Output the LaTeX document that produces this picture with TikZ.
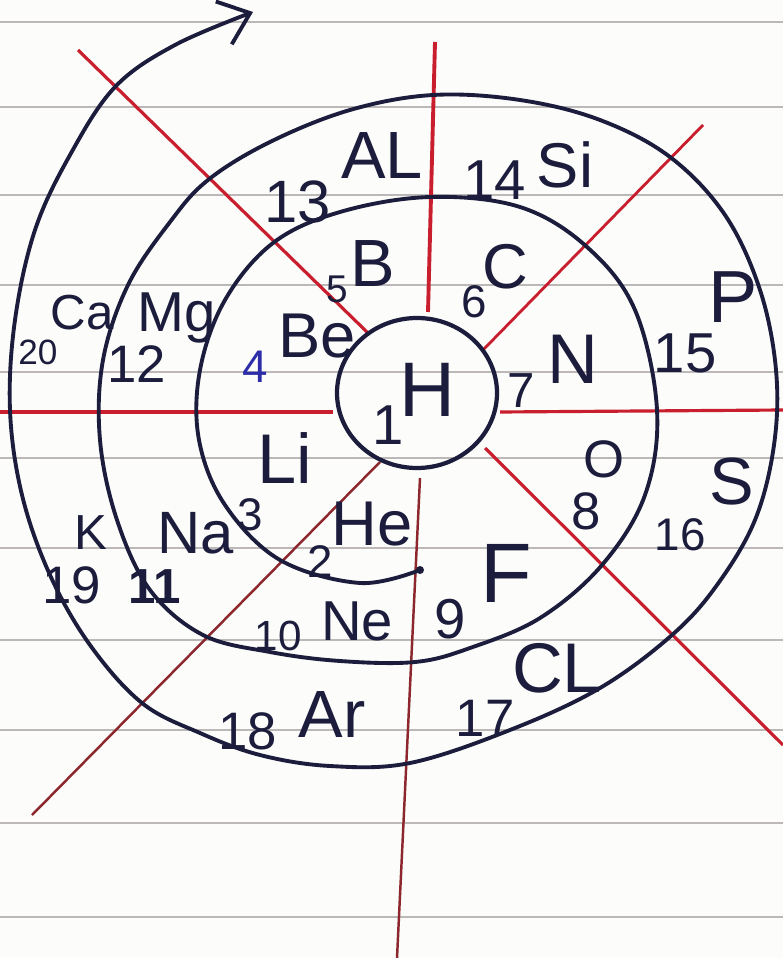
\documentclass[tikz,border=0pt]{standalone}
\usepackage{fontspec}
\setmainfont{Liberation Sans}
\usetikzlibrary{arrows.meta}
\definecolor{ink}{RGB}{28,28,60}
\definecolor{bluink}{RGB}{45,45,170}
\definecolor{redpen}{RGB}{200,30,45}
\definecolor{darkpen}{RGB}{140,40,45}
\definecolor{ruling}{RGB}{188,184,184}
\definecolor{paper}{RGB}{252,252,250}

\begin{document}
\begin{tikzpicture}[x=0.01cm,y=-0.01cm,>={Straight Barb[length=8pt,width=13pt]},
    sym/.style={inner sep=0pt,text=ink},
    num/.style={inner sep=0pt,text=ink}]
  \fill[paper] (0,0) rectangle (783,958);
  \useasboundingbox (0,0) rectangle (783,958);
  % ruled paper
  \foreach \y in {22,107,195,285,372,458,548,640,730,823,917}
     \draw[ruling,line width=0.6pt] (0,\y) -- (783,\y);
  % the eight red spokes, broken at the circle of H
  \draw[redpen,line width=1.1pt] (435,42) -- (428,312);
  \draw[darkpen,line width=0.7pt] (420,478) -- (397,958);
  \draw[redpen,line width=0.9pt] (0,412) -- (333,412);
  \draw[redpen,line width=0.9pt] (500,412) -- (783,410);
  \draw[redpen,line width=0.9pt] (78,50) -- (368,333);
  \draw[redpen,line width=0.9pt] (485,448) -- (783,745);
  \draw[redpen,line width=0.8pt] (703,125) -- (483,350);
  \draw[darkpen,line width=0.7pt] (380,462) -- (32,815);
  % hydrogen in the middle
  \draw[ink,line width=1.2pt] (417,393) ellipse [x radius=80,y radius=75];
  % the spiral, from He outwards
  \draw[ink,line width=1.1pt,->] plot[smooth,tension=0.6] coordinates {
     (420,570) (360,583) (280,560) (225,505) (199,440) (200,370) (225,300)
     (273,243) (340,212) (430,197) (520,207) (587,247) (635,310) (657,410)
     (645,495) (602,565) (540,618) (470,648) (415,662)
     (340,661) (270,652) (203,635) (150,590) (117,520) (100,440) (103,360)
     (128,285) (170,222) (208,180) (270,142) (350,110) (433,95) (520,100)
     (600,120) (670,157) (725,215) (760,290) (776,370) (774,445) (755,520)
     (717,585) (672,635) (600,688) (510,730) (410,763)
     (330,766) (260,755) (200,733) (142,703) (90,645) (50,575) (22,495)
     (10,410) (15,320) (35,230) (70,155) (115,87) (175,45) (253,12)};
  \fill[ink] (420,570) circle (4);
  % element symbols: x / y / size / symbol
  \foreach \x/\y/\s/\t in {427/390/22/H, 372/524/18/He, 285/458/20/Li,
      317/336/18/Be, 373/264/19/B, 505/267/18/C, 573/359/20/N, 604/459/15/O,
      506/573/24/F, 357/621/16/Ne, 196/533/17/Na, 177/318/16/Mg,
      382/156/19/AL, 565/165/18/Si, 733/297/21/P, 732/481/19/S,
      557/668/20/CL, 332/715/19/Ar, 91/533/14/K, 82/313/14/Ca}
     \node[sym,font=\fontsize{\s}{\s}\selectfont] (s\t) at (\x,\y) {\t};
  % atomic numbers: x / y / size / number
  \foreach \x/\y/\s/\n in {388/425/16/1, 320/562/13/2, 250/515/13/3,
      337/289/11/5, 474/302/13/6, 521/391/14/7, 586/511/15/8,
      450/619/16/9, 278/636/12/10, 137/364/15/12, 298/202/17/13,
      495/180/16/14, 685/353/16/15, 680/535/13/16, 485/718/15/17,
      248/731/15/18, 72/585/15/19, 38/352/10/20}
     \node[num,font=\fontsize{\s}{\s}\selectfont] (n\n) at (\x,\y) {\n};
  \node[num,text=bluink,font=\fontsize{13}{13}\selectfont] (n4) at (255,367) {4};
  \node[num,font=\fontsize{14}{14}\selectfont\bfseries] (n11) at (155,587) {11};
\end{tikzpicture}
\end{document}
